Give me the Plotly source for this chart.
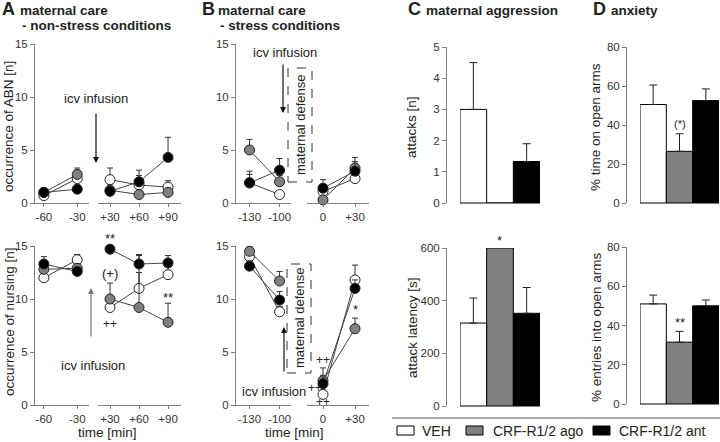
import plotly.graph_objects as go

W, H = 720, 442
def px(x): return x / W
def py(y): return 1 - y / H

FONT = "Liberation Sans, Arial, sans-serif"

# ---------------- data ----------------
groups = ["VEH", "CRF-R1/2 ago", "CRF-R1/2 ant"]
fills = ["#ffffff", "#808080", "#000000"]

# time points / tick labels
time_pre_A = [-60, -30]
time_post_A = [30, 60, 90]
ticks_pre_A = ["-60", "-30"]
ticks_post_A = ["+30", "+60", "+90"]
time_pre_B = [-130, -100]
time_post_B = [0, 30]
ticks_pre_B = ["-130", "-100"]
ticks_post_B = ["0", "+30"]

# A: ABN, non-stress (mean, SEM) per group
abnA_pre = [[0.7, 2.3], [1.0, 2.7], [1.0, 1.3]]
abnA_pre_err = [[0.5, 0.8], [0.3, 0.6], [0.4, 0.4]]
abnA_post = [[2.2, 1.7, 1.5], [1.2, 0.8, 1.0], [1.1, 2.0, 4.3]]
abnA_post_err = [[1.1, 0.9, 0.6], [0.5, 0.4, 0.4], [0.4, 1.1, 1.9]]

# A: nursing, non-stress
nurA_pre = [[12.0, 13.7], [12.8, 12.9], [13.3, 12.6]]
nurA_pre_err = [[0.4, 0.5], [0.5, 0.4], [0.7, 0.3]]
nurA_post = [[9.2, 11.0, 12.3], [10.0, 9.2, 7.8], [14.7, 13.3, 13.4]]
nurA_post_err = [[0.7, 1.5, 0.9], [1.5, 4.9, 1.8], [0.2, 0.9, 0.7]]

# B: ABN, stress
abnB_pre = [[1.9, 0.8], [5.0, 2.0], [1.9, 3.1]]
abnB_pre_err = [[0.8, 0.3], [1.0, 0.6], [1.1, 1.1]]
abnB_post = [[1.1, 2.3], [0.3, 3.3], [1.4, 3.0]]
abnB_post_err = [[0.5, 0.6], [0.3, 1.0], [0.8, 0.9]]

# B: nursing, stress
nurB_pre = [[14.0, 8.8], [14.5, 11.7], [13.1, 9.9]]
nurB_pre_err = [[0.6, 0.5], [0.5, 0.9], [0.5, 0.8]]
nurB_post = [[1.0, 11.8], [2.3, 7.2], [2.0, 11.0]]
nurB_post_err = [[0.4, 1.4], [0.5, 1.0], [1.5, 0.8]]

# C: maternal aggression
attacks = [3.0, 0.0, 1.33]
attacks_err = [1.5, 0.0, 0.57]
latency = [315, 600, 352]
latency_err = [95, 0, 98]

# D: anxiety
time_open = [50.5, 26.5, 52.5]
time_open_err = [10.0, 9.0, 6.0]
entries_open = [51.0, 31.5, 50.0]
entries_open_err = [4.5, 5.5, 3.0]

# ---------------- figure ----------------
fig = go.Figure()

def add_series(x, y, err, xa, ya, gi):
    fig.add_trace(go.Scatter(
        x=x, y=y, xaxis=xa, yaxis=ya, mode="lines+markers",
        line=dict(color="#444444", width=1),
        marker=dict(size=10, color=fills[gi], line=dict(color="#222222", width=1)),
        error_y=dict(type="data", array=err, arrayminus=[0] * len(err), symmetric=False,
                     color="#333333", thickness=1, width=3),
        cliponaxis=False, showlegend=False, hoverinfo="skip"))

for gi in range(3):
    add_series(time_pre_A, abnA_pre[gi], abnA_pre_err[gi], "x", "y", gi)
    add_series(time_post_A, abnA_post[gi], abnA_post_err[gi], "x2", "y", gi)
    add_series(time_pre_A, nurA_pre[gi], nurA_pre_err[gi], "x3", "y2", gi)
    add_series(time_post_A, nurA_post[gi], nurA_post_err[gi], "x4", "y2", gi)
    add_series(time_pre_B, abnB_pre[gi], abnB_pre_err[gi], "x5", "y3", gi)
    add_series(time_post_B, abnB_post[gi], abnB_post_err[gi], "x6", "y3", gi)
    add_series(time_pre_B, nurB_pre[gi], nurB_pre_err[gi], "x7", "y4", gi)
    add_series(time_post_B, nurB_post[gi], nurB_post_err[gi], "x8", "y4", gi)

bar_sets = [(attacks, attacks_err, "x9", "y5"), (latency, latency_err, "x10", "y6"),
            (time_open, time_open_err, "x11", "y7"), (entries_open, entries_open_err, "x12", "y8")]
for si, (vals, errs, xa, ya) in enumerate(bar_sets):
    for gi in range(3):
        fig.add_trace(go.Bar(
            x=[gi], y=[vals[gi]], width=1, xaxis=xa, yaxis=ya, name=groups[gi],
            showlegend=False,
            marker=dict(color=fills[gi], line=dict(color="#000000", width=1)),
            error_y=dict(type="data", array=[errs[gi]], arrayminus=[0], symmetric=False,
                         color="#222222", thickness=1, width=4, visible=errs[gi] > 0),
            cliponaxis=False, hoverinfo="skip"))

AX = "#808080"
TICKF = dict(size=11.5, color="#333333", family=FONT)

def xax(d0, d1, rng, vals, text, anchor, labels=True):
    return dict(domain=[px(d0), px(d1)], range=rng, tickvals=vals, ticktext=text,
                showline=True, linecolor=AX, linewidth=1, ticks="outside" if labels else "",
                ticklen=3, tickcolor=AX, tickfont=TICKF, showticklabels=labels,
                showgrid=False, zeroline=False, anchor=anchor, fixedrange=True,
                automargin=False)

def yax(t, b, rng, vals, anchor, position=None):
    d = dict(domain=[py(b), py(t)], range=rng, tickvals=vals, showline=True, linecolor=AX,
             linewidth=1, ticks="outside", ticklen=4, tickcolor=AX, tickfont=TICKF,
             showgrid=False, zeroline=False, fixedrange=True, anchor=anchor, automargin=False)
    if position is not None:
        d["anchor"] = "free"
        d["position"] = position
    return d

yt = [0, 5, 10, 15]
XA_PRE = [-68.0, -19.4]
XA_POST = [17.6, 103.4]
XB_PRE = [-143.5, -88.6]
XB_POST = [-15, 43.1]
fig.update_layout(
    xaxis=xax(35, 89, XA_PRE, time_pre_A, ticks_pre_A, "y"),
    xaxis2=xax(98, 181, XA_POST, time_post_A, ticks_post_A, "y"),
    xaxis3=xax(35, 89, XA_PRE, time_pre_A, ticks_pre_A, "y2"),
    xaxis4=xax(98, 181, XA_POST, time_post_A, ticks_post_A, "y2"),
    xaxis5=xax(236, 291, XB_PRE, time_pre_B, ticks_pre_B, "y3"),
    xaxis6=xax(307, 369, XB_POST, time_post_B, ticks_post_B, "y3"),
    xaxis7=xax(236, 291, XB_PRE, time_pre_B, ticks_pre_B, "y4"),
    xaxis8=xax(307, 369, XB_POST, time_post_B, ticks_post_B, "y4"),
    xaxis9=xax(460, 540, [-0.5, 2.5], [], [], "y5", labels=False),
    xaxis10=xax(460, 540, [-0.5, 2.5], [], [], "y6", labels=False),
    xaxis11=xax(640, 719, [-0.5, 2.5], [], [], "y7", labels=False),
    xaxis12=xax(640, 719, [-0.5, 2.5], [], [], "y8", labels=False),
    yaxis=yax(44, 203, [0, 15], yt, "x"),
    yaxis2=yax(246, 405, [0, 15], yt, "x3"),
    yaxis3=yax(44, 203, [0, 15], yt, "x5"),
    yaxis4=yax(246, 405, [0, 15], yt, "x7"),
    yaxis5=yax(47, 203, [0, 5], [0, 1, 2, 3, 4, 5], "x9", px(446)),
    yaxis6=yax(248, 406, [0, 600], [0, 200, 400, 600], "x10", px(446)),
    yaxis7=yax(47, 203, [0, 80], [0, 20, 40, 60, 80], "x11", px(626)),
    yaxis8=yax(247, 404, [0, 80], [0, 20, 40, 60, 80], "x12", px(626)),
)

ann = []
def txt(x, y, s, size=13, bold=False, angle=0, xanchor="center", color="#222222"):
    ann.append(dict(x=px(x), y=py(y), xref="paper", yref="paper", text=f"<b>{s}</b>" if bold else s,
                    showarrow=False, xanchor=xanchor, yanchor="middle", textangle=angle,
                    borderpad=0, font=dict(size=size, color=color, family=FONT)))

def arrow(x, head, tail, color):
    ann.append(dict(x=px(x), y=py(head), xref="paper", yref="paper", text="", showarrow=True,
                    ax=0, ay=tail - head, arrowhead=2, arrowsize=1, arrowwidth=1.2,
                    arrowcolor=color))

def dtext(x, y, s, xa, ya, size=13, yshift=0):
    ann.append(dict(x=x, y=y, xref=xa, yref=ya, text=s, showarrow=False, yshift=yshift,
                    font=dict(size=size, color="#222222", family=FONT)))

# panel titles
txt(1, 9, "A", 18, True, xanchor="left")
txt(19, 10, "maternal care", 13.5, True, xanchor="left")
txt(21, 25, "- non-stress conditions", 13.5, True, xanchor="left")
txt(201, 9, "B", 18, True, xanchor="left")
txt(217, 10, "maternal care", 13.5, True, xanchor="left")
txt(219, 25, "- stress conditions", 13.5, True, xanchor="left")
txt(407, 9, "C", 18, True, xanchor="left")
txt(425, 10, "maternal aggression", 13.5, True, xanchor="left")
txt(592, 9, "D", 18, True, xanchor="left")
txt(610, 10, "anxiety", 13.5, True, xanchor="left")

# axis titles
txt(9, 127, "occurrence of ABN [n]", 13.5, angle=-90)
txt(9, 322, "occurrence of nursing [n]", 13.5, angle=-90)
txt(412, 127, "attacks [n]", 13.5, angle=-90)
txt(412, 328, "attack latency [s]", 13.5, angle=-90)
txt(596, 127, "% time on open arms", 13.5, angle=-90)
txt(596, 327, "% entries into open arms", 13.5, angle=-90)
txt(107, 432, "time [min]", 13.5)
txt(294, 432, "time [min]", 13.5)

# icv infusion
txt(96, 99, "icv infusion", 13)
arrow(96, 163, 112, "#111111")
txt(93, 365, "icv infusion", 13)
arrow(91, 288, 338, "#777777")
txt(285, 52, "icv infusion", 13)
arrow(283, 113, 63, "#111111")
txt(274, 391, "icv infusion", 13)
arrow(284, 327, 373, "#111111")

# maternal defense boxes
txt(300, 125, "maternal defense", 13, angle=-90)
txt(299, 318, "maternal defense", 13, angle=-90)

# significance
dtext(30, 15, "**", "x4", "y2", yshift=8)
dtext(30, 12.4, "(+)", "x4", "y2")
dtext(30, 7.6, "++", "x4", "y2", 12)
dtext(90, 10.1, "**", "x4", "y2")
dtext(30, 9.0, "*", "x8", "y4")
dtext(0, 4.2, "++", "x8", "y4", 12)
dtext(-7.5, 1.6, "++", "x8", "y4", 12)
dtext(0, 0.3, "++", "x8", "y4", 12)
dtext(1, 600, "*", "x10", "y6", yshift=8)
dtext(1, 40.5, "(*)", "x11", "y7", 11)
dtext(1, 41.5, "**", "x12", "y8")

# legend (manual, below panels C/D)
leg_box_x = [397, 466, 593]
leg_text_x = [421, 492, 618]
for gi in range(3):
    txt(leg_text_x[gi], 431, groups[gi], 14, xanchor="left")

shapes = [
    dict(type="rect", xref="paper", yref="paper", x0=px(288), x1=px(312), y0=py(182), y1=py(68),
         line=dict(color="#333333", width=1, dash="dash")),
    dict(type="rect", xref="paper", yref="paper", x0=px(287), x1=px(311), y0=py(373), y1=py(264),
         line=dict(color="#333333", width=1, dash="dash")),
    dict(type="line", xref="paper", yref="paper", x0=px(392), x1=px(720), y0=py(418), y1=py(418),
         line=dict(color="#555555", width=1)),
]
for gi in range(3):
    shapes.append(dict(type="rect", xref="paper", yref="paper",
                       x0=px(leg_box_x[gi]), x1=px(leg_box_x[gi] + 17),
                       y0=py(435), y1=py(426), fillcolor=fills[gi],
                       line=dict(color="#000000", width=1)))

fig.update_layout(
    width=W, height=H, autosize=False,
    margin=dict(l=0, r=0, t=0, b=0),
    paper_bgcolor="white", plot_bgcolor="white",
    barmode="overlay",
    font=dict(family=FONT, color="#222222"),
    annotations=ann, shapes=shapes,
    showlegend=False,
)

fig.write_html("out.html", config={"displayModeBar": False},
               post_script="document.body.style.margin='0';document.body.style.overflow='hidden';")
